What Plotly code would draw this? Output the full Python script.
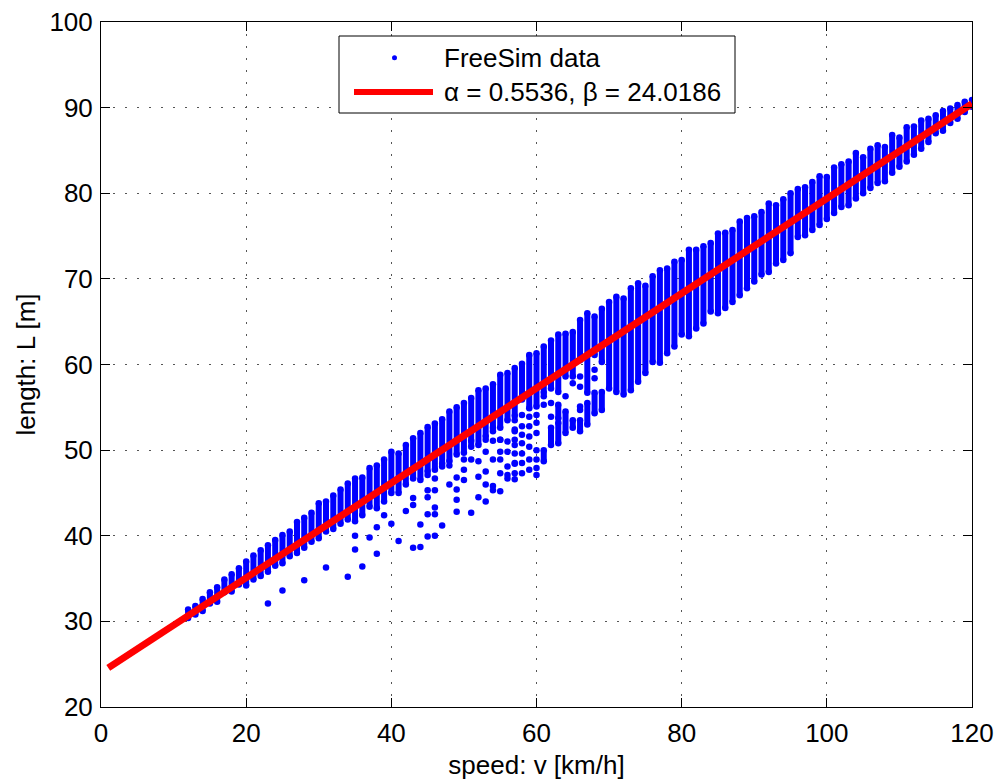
import plotly.graph_objects as go

# ---------------- data ----------------
speed = list(range(12, 121))
band_top = [31.4, 31.8, 32.6, 33.4, 34.0, 34.9, 35.5, 36.2, 37.0, 37.7, 38.3, 38.9, 39.5, 40.1, 40.5,
            41.6, 42.1, 42.7, 43.8, 44.0, 44.7, 45.4, 46.1, 46.7, 46.8, 47.9, 48.2, 48.9, 49.8, 49.6,
            50.6, 51.4, 52.0, 52.7, 53.1, 53.6, 54.5, 55.0, 55.5, 56.1, 57.0, 57.2, 57.7, 58.8, 59.0,
            59.6, 60.1, 61.1, 61.3, 62.1, 62.8, 63.5, 63.6, 63.8, 65.2, 66.0, 65.6, 66.5, 67.3, 67.9,
            67.7, 68.9, 69.5, 69.2, 70.3, 71.0, 71.2, 72.0, 72.2, 73.4, 73.4, 73.8, 74.2, 75.3, 75.4,
            75.7, 76.7, 77.1, 77.3, 77.8, 78.8, 78.6, 79.3, 80.0, 80.5, 80.7, 81.3, 82.0, 81.9, 83.0,
            83.4, 83.7, 84.7, 84.2, 85.2, 85.6, 85.4, 86.8, 86.5, 87.7, 87.8, 88.5, 88.7, 89.1, 89.6,
            89.9, 90.3, 90.7, 90.9]
band_bottom = [30.4, 30.8, 31.2, 32.1, 32.3, 33.4, 33.5, 34.3, 34.2, 34.9, 35.3, 35.8, 36.5, 36.8, 37.6,
               38.0, 38.6, 39.3, 39.7, 40.5, 40.8, 41.4, 41.9, 41.7, 42.4, 43.4, 43.2, 44.0, 45.0, 45.0,
               46.0, 46.7, 46.5, 47.5, 47.7, 48.4, 48.7, 49.5, 49.7, 50.4, 50.6, 51.6, 52.2, 52.6, 53.5,
               54.0, 55.9, 54.9, 55.1, 56.7, 57.2, 56.8, 58.6, 58.6, 60.5, 56.7, 61.1, 60.3, 57.2, 56.8,
               56.5, 57.0, 58.0, 59.0, 60.3, 60.2, 61.3, 62.1, 63.5, 63.3, 64.2, 64.8, 66.2, 66.0, 66.6,
               67.3, 68.1, 68.9, 69.7, 70.5, 70.8, 71.8, 72.2, 73.0, 74.9, 75.1, 75.7, 76.3, 77.0, 77.7,
               78.4, 78.6, 79.4, 80.0, 80.6, 81.2, 81.4, 82.4, 83.1, 83.7, 84.5, 85.2, 86.0, 87.0, 87.3,
               88.2, 88.7, 89.5, 90.1]

# secondary (lower) runs of points
low_speed = [61, 62, 63, 63, 64, 65, 66, 66, 67, 68, 69]
low_top = [50.0, 52.6, 55.3, 53.2, 54.5, 53.5, 55.1, 53.5, 55.5, 56.7, 56.8]
low_bottom = [48.7, 50.6, 53.7, 50.8, 52.0, 52.6, 54.7, 52.2, 53.0, 54.3, 54.7]

# isolated points
out_speed = [23, 25, 28, 31, 34, 35, 35,
             39, 38, 37, 38, 36, 40, 41, 43, 44, 42, 43, 43, 44, 45, 45, 45, 45, 46, 46, 46, 46, 45, 46,
             47, 47, 48, 48, 49, 49, 49, 49, 50, 50, 50, 51, 51, 51, 52, 52, 52, 53, 53, 53, 53, 54, 54,
             54, 55, 55, 54, 53, 56, 56, 57, 57, 57, 57, 57, 54,
             55, 55, 55, 55, 56, 56, 56, 57, 57, 57, 57, 57, 58, 58, 58, 58, 58, 58, 58, 59, 59, 59, 59,
             59, 59, 60, 60, 60, 60, 60, 60, 60, 61, 61, 62, 62, 64, 65, 66, 66, 68, 68]
out_length = [32.1, 33.6, 34.8, 36.3, 35.2, 38.4, 40.0,
              42.4, 41.0, 39.8, 37.9, 36.4, 41.4, 39.4, 38.6, 38.7, 42.9, 43.6, 44.4, 41.3, 42.5, 44.5,
              45.3, 47.1, 46.7, 45.3, 43.3, 42.5, 39.9, 40.0, 41.2, 48.1, 48.2, 46.0, 45.4, 44.2, 42.8,
              46.8, 47.7, 48.9, 46.5, 42.7, 48.9, 51.1, 48.7, 46.9, 44.5, 49.8, 47.5, 46.0, 44.0, 48.9,
              45.8, 45.3, 45.2, 51.2, 51.1, 51.2, 49.8, 47.1, 50.6, 48.4, 46.6, 53.5, 52.4, 52.6,
              51.2, 49.8, 48.9, 47.3, 51.0, 48.1, 46.7, 52.2, 51.2, 49.6, 48.5, 47.3, 54.1, 52.8, 51.8,
              50.8, 49.6, 48.5, 47.3, 53.9, 52.8, 51.6, 50.4, 48.9, 47.7, 54.1, 53.2, 52.0, 50.0, 48.9,
              47.9, 47.1, 56.3, 55.3, 55.5, 53.9, 56.3, 57.8, 58.6, 57.4, 59.4, 58.4]

# fitted line L = alpha*v + beta
fit_speed = [1, 120]
fit_length = [24.57, 90.45]

x_ticks = [0, 20, 40, 60, 80, 100, 120]
y_ticks = [20, 30, 40, 50, 60, 70, 80, 90, 100]
legend_labels = ["FreeSim data", "\u03b1 = 0.5536, \u03b2 = 24.0186"]
x_title = "speed: v [km/h]"
y_title = "length: L [m]"

BLUE = "#0000ff"
RED = "#ff0000"
FONT = "Liberation Sans, Arial, Helvetica, sans-serif"
FS = 26

# ---------------- figure ----------------
def runs(xs, tops, bots):
    X, Y = [], []
    for v, t, b in zip(xs, tops, bots):
        X += [v, v, None]
        Y += [t, b, None]
    return X, Y

fig = go.Figure()
bx, by = runs(speed, band_top, band_bottom)
fig.add_trace(go.Scatter(x=bx, y=by, mode="lines+markers", showlegend=False,
                         line=dict(color=BLUE, width=6), marker=dict(color=BLUE, size=6.5),
                         hoverinfo="skip"))
lx, ly = runs(low_speed, low_top, low_bottom)
fig.add_trace(go.Scatter(x=lx, y=ly, mode="lines+markers", showlegend=False,
                         line=dict(color=BLUE, width=6), marker=dict(color=BLUE, size=6.5),
                         hoverinfo="skip"))
fig.add_trace(go.Scatter(x=out_speed, y=out_length, mode="markers", showlegend=False,
                         marker=dict(color=BLUE, size=6.5)))
fig.add_trace(go.Scatter(x=fit_speed, y=fit_length, mode="lines", showlegend=False,
                         line=dict(color=RED, width=7)))

# plot area in pixels
W, H = 999, 784
L_, R_, T_, B_ = 101, 27, 22, 77
pw, ph = W - L_ - R_, H - T_ - B_

def px(xp):
    return (xp - L_) / pw

def py(yp):
    return (H - B_ - yp) / ph

# manual legend (MATLAB style)
shapes = [
    dict(type="rect", xref="paper", yref="paper", x0=px(339), x1=px(735), y0=py(113), y1=py(36),
         line=dict(color="black", width=1), fillcolor="white", layer="above"),
    dict(type="circle", xref="paper", yref="paper", x0=px(392), x1=px(397), y0=py(60.2), y1=py(55.2),
         line=dict(color=BLUE, width=0), fillcolor=BLUE, layer="above"),
    dict(type="line", xref="paper", yref="paper", x0=px(354), x1=px(433), y0=py(92), y1=py(92),
         line=dict(color=RED, width=6), layer="above"),
]
annotations = [
    dict(xref="paper", yref="paper", x=px(442), y=py(58), text=legend_labels[0], showarrow=False,
         xanchor="left", yanchor="middle", font=dict(family=FONT, size=FS, color="black")),
    dict(xref="paper", yref="paper", x=px(442), y=py(92), text=legend_labels[1], showarrow=False,
         xanchor="left", yanchor="middle", font=dict(family=FONT, size=FS, color="black")),
]

axis_common = dict(showline=True, mirror="ticks", linecolor="black", linewidth=1,
                   ticks="inside", ticklen=9, tickwidth=1, tickcolor="black",
                   showgrid=True, gridcolor="#555555", gridwidth=1, griddash="2px,10px",
                   zeroline=False, tickfont=dict(family=FONT, size=FS, color="black"),
                   automargin=False)

fig.update_layout(
    width=W, height=H, autosize=False,
    margin=dict(l=L_, r=R_, t=T_, b=B_, pad=0, autoexpand=False),
    paper_bgcolor="white", plot_bgcolor="white",
    font=dict(family=FONT, size=FS, color="black"),
    xaxis=dict(range=[0, 120], tickvals=x_ticks, ticktext=[str(t) for t in x_ticks],
               ticklabelstandoff=3,
               title=dict(text=x_title, standoff=8, font=dict(family=FONT, size=FS)), **axis_common),
    yaxis=dict(range=[20, 100], tickvals=y_ticks, ticktext=[str(t) for t in y_ticks],
               ticklabelstandoff=2,
               title=dict(text=y_title, standoff=6, font=dict(family=FONT, size=FS)), **axis_common),
    shapes=shapes, annotations=annotations, showlegend=False,
)

fig.write_html("out.html", config={"displayModeBar": False},
               post_script="document.body.style.margin='0';document.body.style.overflow='hidden';")
